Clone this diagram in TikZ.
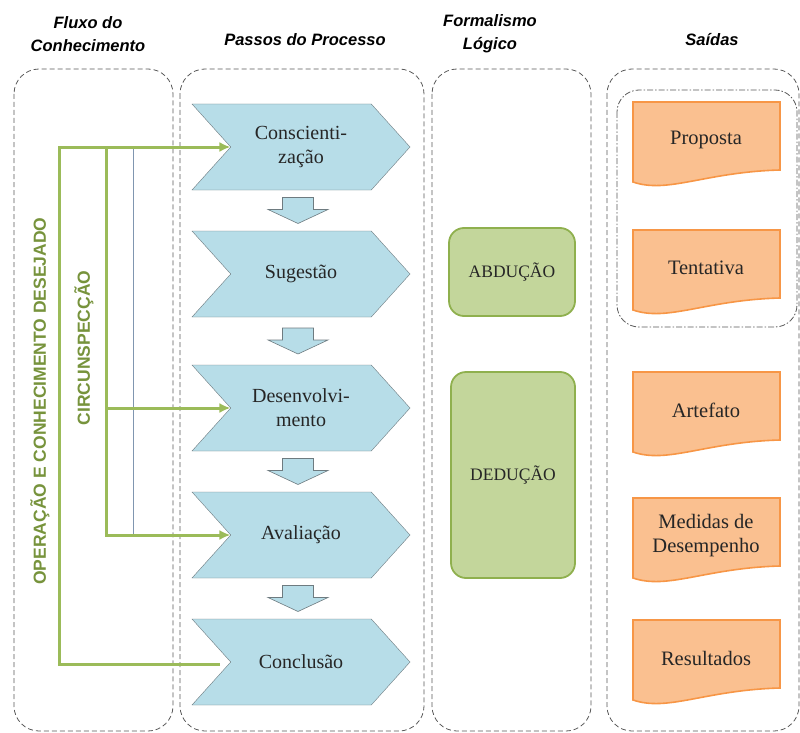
\documentclass[tikz,border=0pt]{standalone}
\usepackage{fontspec}
\setmainfont{Liberation Serif}
\setsansfont{Liberation Sans}
\usetikzlibrary{shapes.symbols,arrows.meta,calc,positioning}

\definecolor{chevblue}{HTML}{B7DDE8}
\definecolor{chevline}{HTML}{6E7B80}
\definecolor{flowgreen}{HTML}{9BBB59}
\definecolor{textgreen}{HTML}{77933C}
\definecolor{boxgreen}{HTML}{C3D69B}
\definecolor{boxline}{HTML}{8FB04E}
\definecolor{docfill}{HTML}{FAC090}
\definecolor{docline}{HTML}{F79646}
\definecolor{dashgray}{HTML}{595959}
\definecolor{thinblue}{HTML}{8096B0}

\begin{document}
\begin{tikzpicture}[x=1pt,y=-1pt,
  column/.style={draw=dashgray, line width=0.8pt, dash pattern=on 5pt off 3pt, rounded corners=25pt},
  header/.style={font=\sffamily\bfseries\itshape\fontsize{16.5}{23}\selectfont, align=center},
  stepsig/.style={signal, signal from=west, signal to=east, signal pointer angle=96,
    draw=chevline, fill=chevblue, minimum width=218pt, minimum height=86pt, inner sep=0pt,
    font=\fontsize{20}{24}\selectfont, align=center, text=black!85},
  blockarr/.style={draw=chevline, fill=chevblue, line width=0.6pt},
  flowline/.style={draw=flowgreen, line width=3pt},
  flowtip/.style={-{Latex[length=11pt,width=10pt]}},
  vlabel/.style={font=\sffamily\bfseries\fontsize{17.5}{18}\selectfont, text=textgreen, rotate=90},
  logicbox/.style={draw=boxline, line width=1.8pt, fill=boxgreen, rounded corners=15pt,
    font=\fontsize{17.5}{20}\selectfont, text=black!85},
  outtext/.style={font=\fontsize{20.5}{24}\selectfont, align=center, text=black!85}]

	\useasboundingbox (0,0) rectangle (800,733);

	% colunas
	\draw[column] (14,69) rectangle (173,731);
	\draw[column] (180,69) rectangle (424,731);
	\draw[column] (432,69) rectangle (591,731);
	\draw[column] (607,69) rectangle (799,731);
	\draw[draw=dashgray, line width=0.8pt, dash pattern=on 6pt off 2pt on 1.5pt off 2pt, rounded corners=22pt] (617,90) rectangle (797,327);

	\node[header] (H1) at (88,34) {Fluxo do\\Conhecimento};
	\node[header] (H2) at (305,40) {Passos do Processo};
	\node[header] (H3) at (490,34) {Formalismo\\Lógico};
	\node[header] (H4) at (712,40) {Saídas};

	% passos
	\node[stepsig] (S1) at (301,147) {Conscienti-\\zação};
	\node[stepsig] (S2) at (301,274) {Sugestão};
	\node[stepsig] (S3) at (301,408) {Desenvolvi-\\mento};
	\node[stepsig] (S4) at (301,535) {Avaliação};
	\node[stepsig] (S5) at (301,662) {Conclusão};

	\foreach \a/\b in {S1/S2,S2/S3,S3/S4,S4/S5}
		\draw[blockarr] ($(\a.south)!0.5!(\b.north)+(-3,0)$) ++(-15.5,-13) -- ++(31,0) -- ++(0,12) -- ++(14.5,0)
			-- ++(-30,14) -- ++(-30,-14) -- ++(14.5,0) -- cycle;

	% fluxo do conhecimento
	\coordinate (OT) at (59,147);
	\coordinate (E5) at (220,664);
	\coordinate (IT) at (106,147);
	\coordinate (IM) at (106,408);
	\coordinate (IB) at (106,535);
	\coordinate (TT) at (133,147);
	\coordinate (TB) at (133,535);

	\draw[draw=thinblue, line width=0.8pt] (TT) -- (TB);
	\draw[flowline, flowtip] (E5) -| (OT) -- (S1.west);
	\draw[flowline, flowtip] (IT) -- (IB) -- (S4.west);
	\draw[flowline, flowtip] (IM) -- (S3.west);

	\node[vlabel] (V1) at (40,401) {OPERAÇÃO E CONHECIMENTO DESEJADO};
	\node[vlabel] (V2) at (84,348) {CIRCUNSPECÇÃO};

	% formalismo
	\node[logicbox, minimum width=126pt, minimum height=88pt] (L1) at (512,272) {ABDUÇÃO};
	\node[logicbox, minimum width=124pt, minimum height=206pt] (L2) at (513,475) {DEDUÇÃO};

	% saidas
	\foreach \i/\t/\txt in {1/102/Proposta, 2/230/Tentativa, 3/372/Artefato, 4/498/{Medidas de\\Desempenho}, 5/620/Resultados}{
		\draw[draw=docline, line width=1.6pt, fill=docfill] (633,\t) -- (780,\t) -- (780,\t+68)
			.. controls (705,\t+70) and (668,\t+92) .. (633,\t+80) -- cycle;
		\node[outtext] (D\i) at (706,\t+38) {\txt};
	}

\end{tikzpicture}
\end{document}
